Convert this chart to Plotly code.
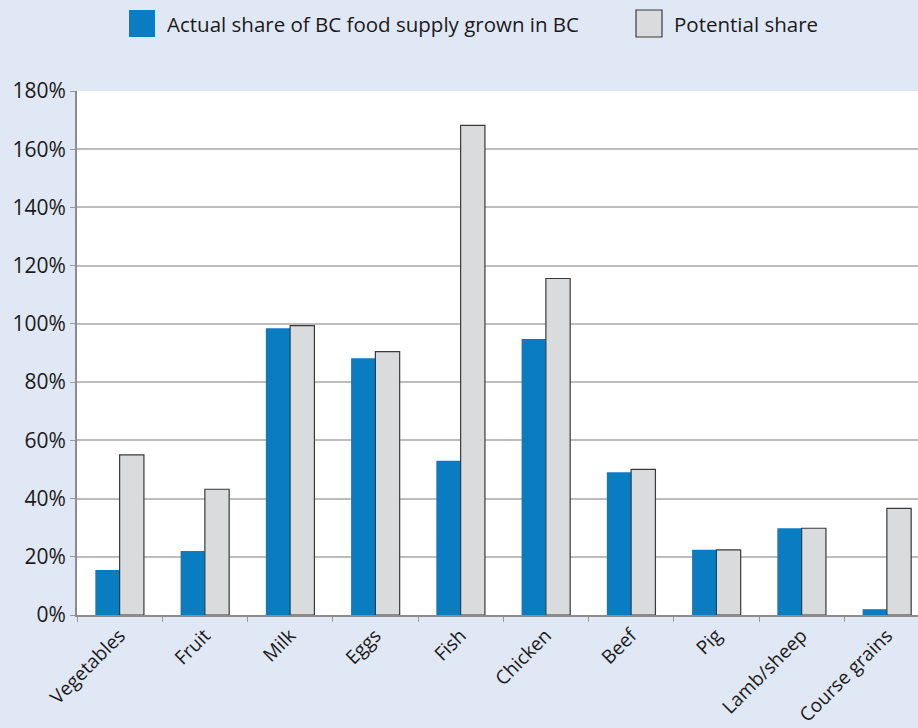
import plotly.graph_objects as go

categories = ["Vegetables", "Fruit", "Milk", "Eggs", "Fish", "Chicken", "Beef", "Pig", "Lamb/sheep", "Course grains"]
actual = [15.5, 22.0, 98.5, 88.2, 53.0, 94.8, 49.0, 22.4, 29.8, 2.0]
potential = [55.0, 43.2, 99.4, 90.5, 168.2, 115.6, 50.0, 22.4, 29.8, 36.6]
y_ticks = [0, 20, 40, 60, 80, 100, 120, 140, 160, 180]
y_labels = [f"{v}%" for v in y_ticks]
series_names = ["Actual share of BC food supply grown in BC", "Potential share"]

FONT = "Open Sans, Noto Sans, sans-serif"
BLUE = "#0A7CC2"
GREY = "#DADBDD"
EDGE = "#3A3A3A"

fig = go.Figure()
fig.add_trace(go.Bar(
    x=categories, y=actual, name=series_names[0],
    marker=dict(color=BLUE, line=dict(width=0)),
))
fig.add_trace(go.Bar(
    x=categories, y=potential, name=series_names[1],
    marker=dict(color=GREY, line=dict(color=EDGE, width=1.2)),
))

# custom legend (larger swatches than Plotly's built-in legend)
W, H = 841.0, 524.0  # plot area size in px


def px_x(p):
    return (p - 77) / W


def px_y(p):
    return (615 - p) / H


legend_items = [
    (129, BLUE, 0, series_names[0]),
    (636, GREY, 1.2, series_names[1]),
]
for x0, col, lw, label in legend_items:
    fig.add_shape(
        type="rect", xref="paper", yref="paper",
        x0=px_x(x0), x1=px_x(x0 + 26), y0=px_y(37), y1=px_y(10),
        fillcolor=col, line=dict(color=EDGE if lw else col, width=lw),
    )
    fig.add_annotation(
        xref="paper", yref="paper", x=px_x(x0 + 36), y=px_y(24),
        xanchor="left", yanchor="middle", text=label, showarrow=False,
        font=dict(size=20.5, color="#1A1A1A", family=FONT),
    )

fig.update_layout(
    width=918, height=728,
    paper_bgcolor="#E1E8F5",
    plot_bgcolor="#FFFFFF",
    barmode="group", bargap=0.43, bargroupgap=0.0,
    margin=dict(l=77, r=0, t=91, b=113, autoexpand=False),
    font=dict(family=FONT, size=18, color="#1A1A1A"),
    showlegend=False,
)
fig.update_xaxes(
    range=[-0.5, 9.365], tickangle=-45, tickson="boundaries",
    ticks="outside", ticklen=5, tickcolor="#9A9A9A",
    showline=True, linecolor="#8C8C8C", linewidth=2,
    showgrid=False, tickfont=dict(size=19), fixedrange=True,
    automargin=False,
)
fig.update_yaxes(
    range=[0, 180], tickvals=y_ticks, ticktext=y_labels,
    ticks="outside", ticklen=5, tickcolor="#9A9A9A",
    showline=True, linecolor="#8C8C8C", linewidth=2,
    showgrid=True, gridcolor="#BDBDBD", gridwidth=1.5,
    zeroline=False, tickfont=dict(size=21), fixedrange=True,
    automargin=False,
)

fig.write_html("out.html")
